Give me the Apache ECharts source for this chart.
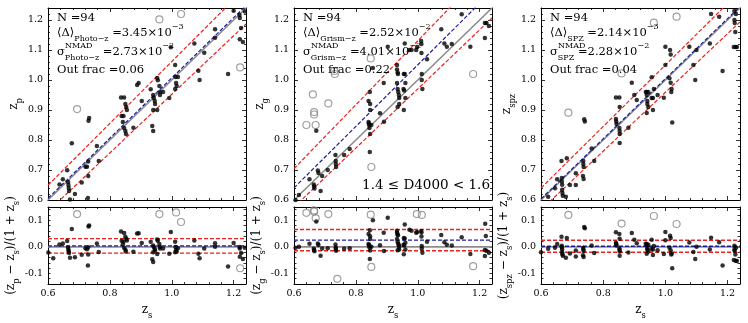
<!DOCTYPE html>
<html>
<head>
<meta charset="utf-8">
<script src="https://cdn.jsdelivr.net/npm/echarts@6/dist/echarts.min.js"></script>
<style>
html,body{margin:0;padding:0;background:#fff;}
#chart{width:748px;height:323px;}
</style>
</head>
<body>
<div id="chart"></div>
<script>
// ---- data ----
// photo-z panel
var photoZs = [0.637,0.648,0.662,0.665,0.666,0.667,0.668,0.677,0.671,0.687,
    0.709,0.721,0.726,0.730,0.730,0.731,0.733,0.729,0.758,0.764,
    0.836,0.846,0.838,0.844,0.842,0.846,0.850,0.852,0.850,0.853,0.855,
    0.876,0.888,0.893,0.903,0.932,0.940,0.942,0.945,0.946,0.937,
    0.940,0.940,0.953,0.953,0.955,0.960,0.962,0.962,0.972,0.992,
    0.997,1.011,1.012,1.014,1.016,1.011,1.020,1.073,1.086,1.090,
    1.105,1.140,1.140,1.182,1.200,1.219,1.220,1.224,1.220,1.230,
    1.236,0.601,0.617];
var photoZp = [0.652,0.669,0.699,0.660,0.650,0.640,0.630,0.789,0.602,0.620,
    0.658,0.711,0.711,0.728,0.680,0.864,0.873,0.607,0.780,0.730,
    0.942,0.942,0.880,0.880,0.860,0.840,0.830,0.820,0.920,0.910,0.900,
    0.841,0.983,0.990,0.930,0.969,0.950,0.940,0.930,0.920,0.847,
    0.830,0.900,0.900,1.007,0.999,0.980,0.960,0.950,0.960,0.940,
    1.109,1.050,1.010,0.990,0.980,0.970,1.010,1.122,1.031,1.000,
    1.091,1.141,1.169,1.020,1.231,1.217,1.207,1.173,1.136,1.127,
    1.228,0.567,0.547];
var photoOutZs = [0.694,0.960,1.030,1.221,1.014];
var photoOutZp = [0.903,1.202,1.220,1.042,1.275];

// grism-z panel
var grismZs = [0.605,0.616,0.650,0.664,0.665,0.666,0.672,0.677,0.679,0.686,
    0.691,0.709,0.734,0.735,0.735,0.736,0.762,0.780,0.841,0.841,
    0.842,0.843,0.844,0.846,0.845,0.846,0.846,0.845,0.850,0.855,
    0.878,0.891,0.890,0.903,0.933,0.933,0.935,0.936,0.933,0.935,
    0.937,0.939,0.940,0.935,0.940,0.958,0.973,0.980,0.955,0.958,
    0.954,0.956,0.960,0.955,0.960,0.995,0.998,1.011,1.012,1.012,
    1.013,1.013,1.015,1.030,1.076,1.086,1.094,1.110,1.142,1.170,
    1.217,1.222,1.230,1.217,1.218,1.220];
var grismZg = [0.600,0.617,0.669,0.652,0.645,0.638,0.831,0.698,0.690,0.630,
    0.680,0.700,0.750,0.730,0.720,0.710,0.750,0.770,0.930,0.860,
    0.855,0.850,0.840,0.820,0.960,0.920,0.900,0.760,0.850,1.040,
    0.889,0.861,0.990,1.111,1.050,1.035,1.025,1.020,0.990,0.970,
    0.960,0.950,0.940,0.910,0.920,1.122,1.100,1.100,1.020,1.020,
    0.970,0.965,0.940,0.900,0.990,1.100,1.110,1.130,1.120,1.090,
    1.020,1.000,0.970,1.069,1.169,1.122,1.111,1.120,1.219,1.111,
    1.190,1.190,1.180,1.140,1.410,1.310];
var grismOutZs = [0.640,0.661,0.665,0.665,0.670,0.711,0.730,0.732,0.848,0.850,1.179,0.740,0.997,1.013];
var grismOutZg = [0.850,0.952,0.885,0.893,0.850,0.922,1.030,1.020,1.072,0.710,1.020,0.530,1.243,1.255];

// SPZ panel
var spzZs = [0.623,0.645,0.652,0.666,0.667,0.667,0.668,0.668,0.669,0.670,
    0.680,0.683,0.693,0.712,0.712,0.736,0.736,0.737,0.735,0.737,
    0.739,0.741,0.763,0.771,0.841,0.852,0.841,0.842,0.843,0.852,
    0.853,0.853,0.853,0.853,0.881,0.892,0.900,0.908,0.937,0.940,
    0.945,0.940,0.942,0.942,0.945,0.940,0.956,0.956,0.960,0.960,
    0.963,0.975,0.995,1.000,1.000,1.013,1.017,1.015,1.017,1.020,
    1.019,1.022,1.077,1.090,1.096,1.100,1.143,1.147,1.173,1.184,
    1.222,1.222,1.223,1.225,1.220,1.226,1.230,1.227,0.600];
var spzZspz = [0.611,0.639,0.669,0.730,0.673,0.662,0.651,0.634,0.623,0.614,
    0.611,0.739,0.650,0.689,0.650,0.730,0.720,0.710,0.680,0.670,
    0.869,0.862,0.772,0.730,0.942,0.942,0.870,0.862,0.853,0.840,
    0.830,0.820,0.910,0.790,0.841,0.991,0.950,0.933,0.960,0.960,
    0.960,0.950,0.930,0.920,0.910,0.890,1.009,0.940,0.940,0.900,
    0.970,0.950,0.941,1.111,1.050,1.006,0.991,1.100,1.085,0.970,
    0.960,0.858,1.111,1.050,1.000,1.100,1.122,1.220,1.211,1.030,
    1.230,1.200,1.190,1.160,1.110,1.110,1.110,1.220,0.568];
var spzOutZs = [0.688,0.963,1.036,0.859];
var spzOutZspz = [0.891,1.191,1.211,1.022];

// statistics per panel
var panelDelta = [3.45e-3, 2.52e-2, 2.14e-3];
var panelSigma = [2.73e-2, 4.01e-2, 2.28e-2];
var panelSub = ['Photo\u2212z', 'Grism\u2212z', 'SPZ'];
var deltaMant = ['3.45', '2.52', '2.14'];
var deltaExp = ['\u22123', '\u22122', '\u22123'];
var sigmaMant = ['2.73', '4.01', '2.28'];
var sigmaExp = ['\u22122', '\u22122', '\u22122'];
var outFrac = ['0.06', '0.22', '0.04'];
var nGal = ['94', '94', '94'];
var ySub = ['p', 'g', 'spz'];

var xTicks = [0.6, 0.8, 1.0, 1.2];

// ---- layout ----
var F = 'DejaVu Serif';
var xMin = 0.6, xMax = 1.24;
var topMin = 0.6, topMax = 1.24;
var resMin = -0.14, resMax = 0.15;
var gridLeft = [48, 294, 541], gridWidth = [198, 198, 199];
var topY = 8, topH = 192, botY = 207, botH = 77;

var panels = [
    {zs: photoZs, z: photoZp, ozs: photoOutZs, oz: photoOutZp},
    {zs: grismZs, z: grismZg, ozs: grismOutZs, oz: grismOutZg},
    {zs: spzZs, z: spzZspz, ozs: spzOutZs, oz: spzOutZspz}
];

function nameRich(size) {
    return {
        m: {fontFamily: F, fontSize: size, color: '#000', lineHeight: 20, verticalAlign: 'middle'},
        s: {fontFamily: F, fontSize: size * 0.7, color: '#000', lineHeight: 9, verticalAlign: 'bottom'}
    };
}

function fmtStep(step) {
    return function (v) {
        var k = Math.round(v / step);
        if (Math.abs(v / step - k) > 1e-6) return '';
        return (k * step).toFixed(1);
    };
}

var grids = [], xAxes = [], yAxes = [], series = [], graphics = [];

function addX(gi, pos, label, name) {
    xAxes.push({
        type: 'value', gridIndex: gi, position: pos, min: xMin, max: xMax, interval: 0.2,
        axisLine: {onZero: false, lineStyle: {color: '#000', width: 1}},
        axisTick: {inside: true, length: 4, lineStyle: {color: '#000', width: 0.8}},
        minorTick: {show: true, splitNumber: 5, length: 2, lineStyle: {color: '#000', width: 0.8}},
        splitLine: {show: false},
        axisLabel: {show: label, fontFamily: F, fontSize: 9.5, color: '#000', margin: 5,
            formatter: function (v) {
                for (var i = 0; i < xTicks.length; i++) if (Math.abs(v - xTicks[i]) < 1e-6) return xTicks[i].toFixed(1);
                return '';
            }},
        name: name || '', nameLocation: 'middle', nameGap: 16,
        nameTextStyle: {rich: nameRich(12)}
    });
}

function addY(gi, pos, isTop, label, name, gap) {
    yAxes.push({
        type: 'value', gridIndex: gi, position: pos,
        min: isTop ? topMin : resMin, max: isTop ? topMax : resMax,
        interval: isTop ? 0.1 : 0.02,
        axisLine: {onZero: false, lineStyle: {color: '#000', width: 1}},
        axisTick: {inside: true, length: isTop ? 4 : 2.5, lineStyle: {color: '#000', width: 0.8}},
        minorTick: {show: isTop, splitNumber: 5, length: 2, lineStyle: {color: '#000', width: 0.8}},
        splitLine: {show: false},
        axisLabel: {show: label, fontFamily: F, fontSize: 9.5, color: '#000', margin: 5,
            formatter: fmtStep(0.1)},
        name: name || '', nameLocation: 'middle', nameGap: gap || 25,
        nameTextStyle: {rich: nameRich(12)}
    });
}

function lineSer(gi, x0, y0, x1, y1, color, type, width, z) {
    series.push({
        type: 'line', xAxisIndex: 2 * gi, yAxisIndex: 2 * gi, data: [[x0, y0], [x1, y1]],
        symbol: 'none', clip: true, silent: true, z: z,
        lineStyle: {color: color, type: type, width: width}
    });
}

function scatterSer(gi, data, hollow) {
    series.push({
        type: 'scatter', xAxisIndex: 2 * gi, yAxisIndex: 2 * gi, data: data, clip: true, silent: true,
        symbol: 'circle', symbolSize: hollow ? 7 : 4.5, z: hollow ? 4 : 5,
        itemStyle: hollow ? {color: 'rgba(0,0,0,0)', borderColor: '#8a8a8a', borderWidth: 1.2}
                          : {color: '#000', borderWidth: 0}
    });
}

function rtext(x, y, text, size, extra) {
    var st = {
        text: text, fill: '#000', fontFamily: F, fontSize: size, verticalAlign: 'middle', align: 'left',
        rich: {
            m: {fontFamily: F, fontSize: size, fill: '#000', lineHeight: 20, verticalAlign: 'middle'},
            b: {fontFamily: F, fontSize: 8, fill: '#000', lineHeight: 9, verticalAlign: 'bottom'},
            p: {fontFamily: F, fontSize: 8, fill: '#000', lineHeight: 10, verticalAlign: 'top'}
        }
    };
    if (extra) for (var k in extra) st[k] = extra[k];
    graphics.push({type: 'text', x: x, y: y, silent: true, z: 100, style: st});
}

for (var p = 0; p < 3; p++) {
    var L = gridLeft[p], W = gridWidth[p];
    var d = panelDelta[p], s = panelSigma[p];
    var P = panels[p];
    var gTop = 2 * p, gBot = 2 * p + 1;

    grids.push({left: L, top: topY, width: W, height: topH});
    grids.push({left: L, top: botY, width: W, height: botH});

    // top panel axes
    addX(gTop, 'bottom', false);
    addX(gTop, 'top', false);
    addY(gTop, 'left', true, true, '{m|z}{s|' + ySub[p] + '}', 24);
    addY(gTop, 'right', true, false);
    // residual panel axes
    addX(gBot, 'bottom', true, '{m|z}{s|s}');
    addX(gBot, 'top', false);
    addY(gBot, 'left', false, true,
        '{m|(z}{s|' + ySub[p] + '}{m| \u2212 z}{s|s}{m|)/(1 + z}{s|s}{m|)}', 24);
    addY(gBot, 'right', false, false);

    // reference lines, top
    lineSer(gTop, xMin, xMin, xMax, xMax, '#8c8c8c', 'solid', 1.6, 2);
    lineSer(gTop, xMin, xMin + d * (1 + xMin), xMax, xMax + d * (1 + xMax), '#1c1c9c', [4, 2], 1.2, 3);
    lineSer(gTop, xMin, xMin + (d + s) * (1 + xMin), xMax, xMax + (d + s) * (1 + xMax), '#f02020', [4, 2], 1.2, 3);
    lineSer(gTop, xMin, xMin + (d - s) * (1 + xMin), xMax, xMax + (d - s) * (1 + xMax), '#f02020', [4, 2], 1.2, 3);
    // reference lines, residual
    lineSer(gBot, xMin, 0, xMax, 0, '#8c8c8c', 'solid', 1.6, 2);
    lineSer(gBot, xMin, d, xMax, d, '#1c1c9c', [4, 2], 1.4, 3);
    lineSer(gBot, xMin, d + s, xMax, d + s, '#f02020', [4, 2], 1.4, 3);
    lineSer(gBot, xMin, d - s, xMax, d - s, '#f02020', [4, 2], 1.4, 3);

    var topPts = [], resPts = [], topOut = [], resOut = [];
    for (var i = 0; i < P.zs.length; i++) {
        topPts.push([P.zs[i], P.z[i]]);
        resPts.push([P.zs[i], (P.z[i] - P.zs[i]) / (1 + P.zs[i])]);
    }
    for (var j = 0; j < P.ozs.length; j++) {
        topOut.push([P.ozs[j], P.oz[j]]);
        resOut.push([P.ozs[j], (P.oz[j] - P.ozs[j]) / (1 + P.ozs[j])]);
    }
    scatterSer(gTop, topOut, true);
    scatterSer(gTop, topPts, false);
    scatterSer(gBot, resOut, true);
    scatterSer(gBot, resPts, false);

    // annotation block
    var tx = L + 9;
    rtext(tx, 18, '{m|N =' + nGal[p] + '}', 11.5);
    rtext(tx, 33, '{m|\u27e8\u0394\u27e9}{b|' + panelSub[p] + '}{m| =' + deltaMant[p] + '\u00d710}{p|' + deltaExp[p] + '}', 11.5);
    rtext(tx, 52, '{m|\u03c3}{b|' + panelSub[p] + '}{m| =' + sigmaMant[p] + '\u00d710}{p|' + sigmaExp[p] + '}', 11.5);
    rtext(tx + 8, 46, 'NMAD', 8);
    rtext(tx, 70, '{m|Out frac =' + outFrac[p] + '}', 11.5);
}

// D4000 bin label
rtext(490, 185, '1.4 \u2264 D4000 < 1.6', 13.5, {align: 'right'});

var chart = echarts.init(document.getElementById('chart'), null, {renderer: 'canvas'});
chart.setOption({
    backgroundColor: '#fff',
    animation: false,
    grid: grids,
    xAxis: xAxes,
    yAxis: yAxes,
    series: series,
    graphic: graphics
});
</script>
</body>
</html>
